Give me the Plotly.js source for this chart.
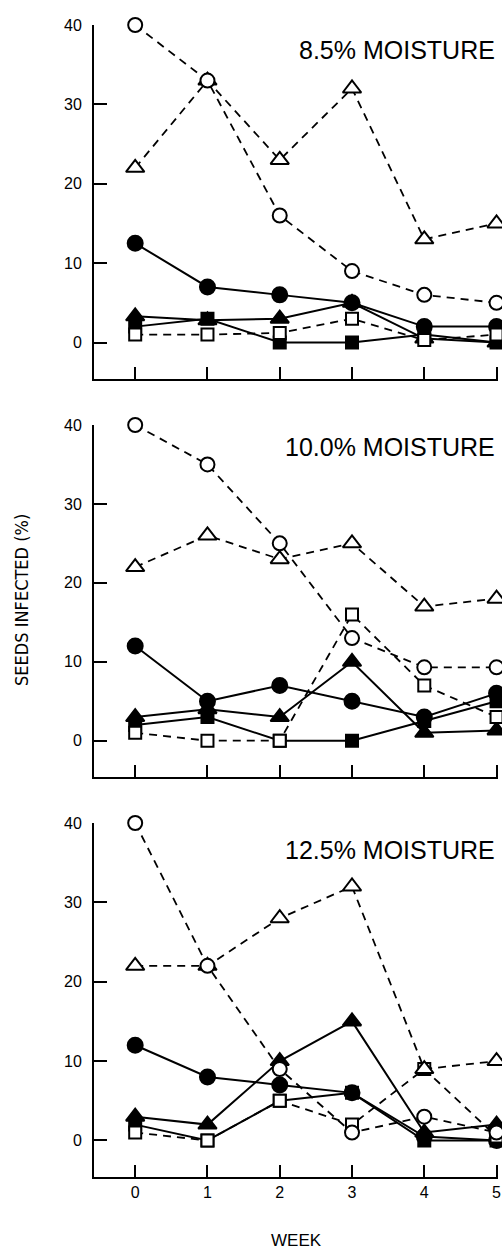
<!DOCTYPE html>
<html>
<head>
<meta charset="utf-8">
<script src="https://cdn.plot.ly/plotly-3.0.1.min.js"></script>
<style>html,body{margin:0;padding:0;background:#fff;}</style>
</head>
<body>
<div id="chart" style="width:502px;height:1249px;"></div>
<script>
// ---- data ----
const weeks = [0, 1, 2, 3, 4, 5];
const weekTicks = ['0', '1', '2', '3', '4', '5'];
const yTicks = [0, 10, 20, 30, 40];
const panelLabels = ['8.5% MOISTURE', '10.0% MOISTURE', '12.5% MOISTURE'];

// one row per panel (8.5%, 10.0%, 12.5% moisture)
const openCircle    = [[40, 33, 16, 9, 6, 5],   [40, 35, 25, 13, 9.3, 9.3], [40, 22, 9, 1, 3, 1]];
const openTriangle  = [[22, 33, 23, 32, 13, 15], [22, 26, 23, 25, 17, 18],  [22, 22, 28, 32, 9, 10]];
const filledCircle  = [[12.5, 7, 6, 5, 2, 2],   [12, 5, 7, 5, 3, 6],       [12, 8, 7, 6, 0.5, 0]];
const filledTriangle= [[3.3, 2.8, 3, 5, 0.5, 0], [3, 4, 3, 10, 1, 1.3],     [3, 2, 10, 15, 1, 2]];
const filledSquare  = [[2, 3, 0, 0, 1, 0],      [2, 3, 0, 0, 2.5, 5],      [2, 0, 5, 6, 0, 0]];
const openSquare    = [[1, 1, 1.2, 3, 0.3, 1],   [1, 0, 0, 16, 7, 3],       [1, 0, 5, 2, 9, 0.5]];

// ---- styles ----
const INK = '#000';
const DASH = '8px,6px';
const seriesDefs = [
  {data: filledSquare,   symbol: 'square',      fill: INK,    dash: 'solid', size: 12},
  {data: filledTriangle, symbol: 'triangle-up', fill: INK,    dash: 'solid', size: 16},
  {data: filledCircle,   symbol: 'circle',      fill: INK,    dash: 'solid', size: 15},
  {data: openSquare,     symbol: 'square',      fill: '#fff', dash: DASH,    size: 12},
  {data: openTriangle,   symbol: 'triangle-up', fill: '#fff', dash: DASH,    size: 16},
  {data: openCircle,     symbol: 'circle',      fill: '#fff', dash: DASH,    size: 14}
];

const traces = [];
for (let p = 0; p < 3; p++) {
  const xa = p === 0 ? 'x' : 'x' + (p + 1);
  const ya = p === 0 ? 'y' : 'y' + (p + 1);
  seriesDefs.forEach(s => {
    traces.push({
      type: 'scatter', mode: 'lines+markers',
      x: weeks, y: s.data[p], xaxis: xa, yaxis: ya,
      cliponaxis: false, showlegend: false, hoverinfo: 'skip',
      line: {color: INK, width: s.dash === 'solid' ? 2 : 1.8, dash: s.dash},
      marker: {symbol: s.symbol, size: s.size, color: s.fill, line: {color: INK, width: 2}}
    });
  });
}

const FONT = 'Liberation Sans, Arial, Helvetica, sans-serif';
const domains = [[0.6927, 1], [0.3472, 0.6528], [0, 0.3073]];
const layout = {
  width: 502, height: 1249,
  margin: {l: 94, r: 4, t: 25, b: 72},
  paper_bgcolor: '#fff', plot_bgcolor: '#fff',
  font: {family: FONT, color: INK},
  annotations: [],
  showlegend: false
};
for (let p = 0; p < 3; p++) {
  const sx = p === 0 ? '' : String(p + 1);
  layout['xaxis' + sx] = {
    domain: [0, 1], anchor: 'y' + sx, range: [-0.57, 5.02],
    showline: true, linecolor: INK, linewidth: 2, showgrid: false, zeroline: false,
    tickvals: weeks, ticktext: weekTicks, ticks: 'inside', ticklen: 12, tickwidth: 2, tickcolor: INK,
    showticklabels: p === 2, tickfont: {size: 16, family: FONT, color: INK}
  };
  layout['yaxis' + sx] = {
    domain: domains[p], anchor: 'x' + sx, range: [-4.6, 40],
    showline: true, linecolor: INK, linewidth: 2, showgrid: false, zeroline: false,
    tickvals: yTicks, ticks: 'inside', ticklen: 13, tickwidth: 2, tickcolor: INK,
    ticklabelstandoff: 7,
    tickfont: {size: 16, family: FONT, color: INK}
  };
  layout.annotations.push({
    xref: 'x' + sx, yref: 'y' + sx, x: 5.0, y: [36.8, 37.2, 36.6][p],
    xanchor: 'right', yanchor: 'middle', showarrow: false,
    text: panelLabels[p], font: {size: 25, family: FONT, color: INK}
  });
}
layout.annotations.push({
  xref: 'paper', yref: 'paper', x: 0.5, y: -0.055, xanchor: 'center', yanchor: 'middle',
  showarrow: false, text: 'WEEK', font: {size: 17, family: FONT, color: INK}
});
layout.annotations.push({
  xref: 'paper', yref: 'paper', x: -0.178, y: 0.501, xanchor: 'center', yanchor: 'middle',
  showarrow: false, textangle: -90, text: 'SEEDS INFECTED (%)', font: {size: 18, family: 'Liberation Sans Narrow, DejaVu Sans Condensed, ' + FONT, color: INK}
});

Plotly.newPlot('chart', traces, layout, {displayModeBar: false, staticPlot: true});
</script>
</body>
</html>
